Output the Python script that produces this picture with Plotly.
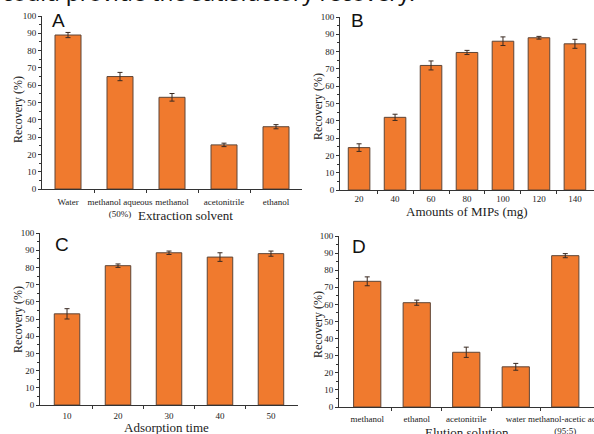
import plotly.graph_objects as go

# ---- data ----
cat_a = ["Water", "methanol aqueous<br>(50%)", "methanol", "acetonitrile", "ethanol"]
val_a = [89, 65, 53, 25.5, 36]
err_a = [1.5, 2.4, 2.2, 1.0, 1.2]

cat_b = ["20", "40", "60", "80", "100", "120", "140"]
val_b = [24.5, 42, 72, 79.5, 86, 88, 84.5]
err_b = [2.2, 1.8, 2.6, 1.2, 2.5, 0.8, 2.6]

cat_c = ["10", "20", "30", "40", "50"]
val_c = [53, 81, 88.5, 86, 88]
err_c = [3.0, 1.0, 1.0, 2.5, 1.5]

cat_d = ["methanol", "ethanol", "acetonitrile", "water", "methanol-acetic acid<br>(95:5)"]
val_d = [73.5, 61, 32, 23.5, 88.5]
err_d = [2.6, 1.5, 3.0, 2.0, 1.2]

yticks = list(range(0, 101, 10))

W, H = 594, 434
BAR = "#F07A2E"
EDGE = "#5e4536"
SERIF = "Liberation Serif"
SANS = "Liberation Sans"

panels = [
    (cat_a, val_a, err_a, (42, 302), (16, 189), [-0.5, 4.5], 0.5, "A", (50, 20), "Extraction solvent", (185, 215), (18, 110), 4),
    (cat_b, val_b, err_b, (340, 594), (17, 190), [-0.53, 6.53], 0.6, "B", (349, 20), "Amounts of MIPs (mg)", (467, 211.5), (318, 107), 0),
    (cat_c, val_c, err_c, (40, 298), (233, 405), [-0.53, 4.53], 0.5, "C", (53, 244), "Adsorption time", (166, 427), (18, 320), 2),
    (cat_d, val_d, err_d, (339, 594), (236, 407), [-0.57, 4.58], 0.55, "D", (350, 246), "Elution solution", (467, 432), (318, 325), 3),
]

fig = go.Figure()
annotations = []
layout = {}
for i, (cats, vals, errs, xd, yd, xr, bw, letter, lpos, xt, xtpos, ytpos, stand) in enumerate(panels):
    n = "" if i == 0 else str(i + 1)
    xa, ya = "x" + n, "y" + n
    fig.add_trace(go.Bar(
        x=list(range(len(cats))), y=vals, width=bw,
        marker=dict(color=BAR, line=dict(color=EDGE, width=1)),
        error_y=dict(type="data", array=errs, color="#3a2a22", thickness=1, width=2.5),
        xaxis=xa, yaxis=ya, showlegend=False,
    ))
    layout["xaxis" + n] = dict(
        domain=[xd[0] / W, xd[1] / W], range=xr, anchor=ya,
        tickmode="array", tickvals=list(range(len(cats))), ticktext=cats,
        showline=True, linecolor="#333", linewidth=1, ticks="",
        showgrid=False, zeroline=False, ticklabelstandoff=stand,
        ticklabeloverflow="allow", tickangle=0, automargin=False,
        tickfont=dict(family=SERIF, size=9, color="#222"),
        minor=dict(tickmode="array", tickvals=[k + 0.5 for k in range(len(cats) - 1)],
                   ticks="outside", ticklen=3, tickcolor="#333"),
    )
    layout["yaxis" + n] = dict(
        domain=[(H - yd[1]) / H, (H - yd[0]) / H], range=[0, 100], anchor=xa,
        tickmode="array", tickvals=yticks, ticktext=[str(t) for t in yticks],
        showline=True, linecolor="#333", linewidth=1, automargin=False,
        ticks="outside", ticklen=3, tickcolor="#333",
        minor=dict(dtick=5, ticks="outside", ticklen=2, tickcolor="#333"),
        showgrid=False, zeroline=False,
        tickfont=dict(family=SERIF, size=9, color="#222"),
    )
    annotations.append(dict(text=letter, x=lpos[0] / W, y=1 - lpos[1] / H, xref="paper", yref="paper",
                            xanchor="left", yanchor="middle", showarrow=False,
                            font=dict(family=SANS, size=19, color="#111")))
    annotations.append(dict(text=xt, x=xtpos[0] / W, y=1 - xtpos[1] / H, xref="paper", yref="paper",
                            xanchor="center", yanchor="middle", showarrow=False,
                            font=dict(family=SERIF, size=13, color="#222")))
    annotations.append(dict(text="Recovery (%)", x=ytpos[0] / W, y=1 - ytpos[1] / H, xref="paper", yref="paper",
                            xanchor="center", yanchor="middle", showarrow=False, textangle=-90,
                            font=dict(family=SERIF, size=12, color="#222")))

annotations.append(dict(text="could provide the satisfactory recovery.", x=0, y=1 + 8 / H,
                        xref="paper", yref="paper", xanchor="left", yanchor="middle",
                        showarrow=False, font=dict(family="Noto Sans", size=22.5, color="#111")))

fig.update_layout(
    width=W, height=H, margin=dict(l=0, r=0, t=0, b=0),
    paper_bgcolor="white", plot_bgcolor="white",
    annotations=annotations, **layout,
)
fig.write_html("out.html")
